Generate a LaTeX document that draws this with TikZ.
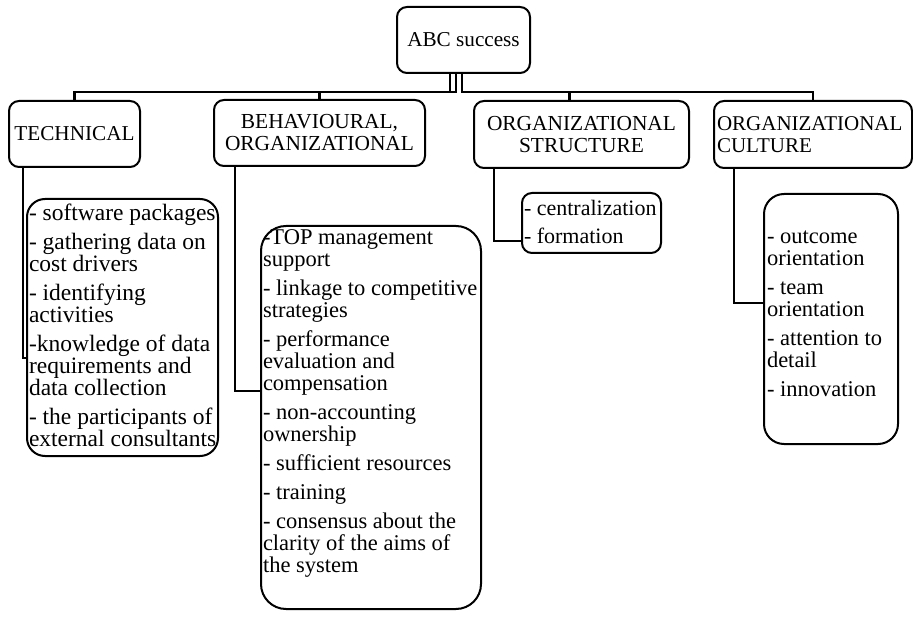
\documentclass[tikz,border=0pt]{standalone}
\usepackage{fontspec}
\setmainfont{Liberation Serif}
\begin{document}
\begin{tikzpicture}[x=1pt,y=-1pt,
  line width=2pt,
  hbox/.style={draw, line width=2pt, rounded corners=10pt, inner sep=0pt, anchor=north west, align=center,
    font=\fontsize{21.4}{22}\selectfont},
  lbox/.style={draw, line width=2pt, inner sep=0pt, anchor=north west},
  ltext/.style={inner sep=0pt, anchor=north west, align=left,
    font=\fontsize{22.5}{22}\selectfont},
  conn/.style={draw, line width=2.2pt}
]
\useasboundingbox (0,0) rectangle (913,620);

% top node
\node[hbox, minimum width=133pt, minimum height=66pt, font=\fontsize{21.2}{22}\selectfont] (abc) at (396,6) {ABC success};

% headings
\node[hbox, minimum width=131pt, minimum height=66pt, font=\fontsize{21.2}{22}\selectfont] (tech) at (8,100) {TECHNICAL};
\node[hbox, minimum width=211pt, minimum height=66pt] (beh) at (213,99) {BEHAVIOURAL,\\ORGANIZATIONAL};
\node[hbox, minimum width=215pt, minimum height=67pt] (struct) at (473,100) {ORGANIZATIONAL\\STRUCTURE};
\node[hbox, minimum width=198pt, minimum height=67pt, align=left, text width=192pt, inner xsep=3pt, font=\fontsize{21}{22}\selectfont] (culture) at (713,100) {ORGANIZATIONAL\\CULTURE};

% list boxes
\node[lbox, rounded corners=18pt, minimum width=191pt, minimum height=257pt] (techlist) at (26,198) {};
\node[ltext, font=\fontsize{23.5}{22}\selectfont] (techtext) at (28,203) {- software packages\\[7pt]- gathering data on\\cost drivers\\[7pt]- identifying\\activities\\[7pt]-knowledge of data\\requirements and\\data collection\\[7pt]- the participants of\\external consultants};

\node[lbox, rounded corners=25pt, minimum width=220pt, minimum height=383pt] (behlist) at (260,225) {};
\node[ltext] (behtext) at (262,229) {-TOP management\\support\\[7pt]- linkage to competitive\\strategies\\[7pt]- performance\\evaluation and\\compensation\\[7pt]- non-accounting\\ownership\\[7pt]- sufficient resources\\[7pt]- training\\[7pt]- consensus about the\\clarity of the aims of\\the system};

\node[lbox, rounded corners=10pt, minimum width=139pt, minimum height=60pt] (structlist) at (521,192) {};
\node[ltext, font=\fontsize{22}{22}\selectfont] (structtext) at (523,199) {- centralization\\[6pt]- formation};

\node[lbox, rounded corners=20pt, minimum width=134pt, minimum height=250pt] (culturelist) at (763,193) {};
\node[ltext] (culturetext) at (766,230) {- outcome\\orientation\\[7pt]- team\\orientation\\[7pt]- attention to\\detail\\[7pt]- innovation};

% connectors from top
\draw[conn] ([xshift=-13.5pt]abc.south) -- ++(0,18) -| (tech.north);
\draw[conn] ([xshift=-7.5pt]abc.south) -- ++(0,18) -| (beh.north);
\draw[conn] ([xshift=-1.5pt]abc.south) -- ++(0,18) -| ([xshift=-12pt]struct.north);
\draw[conn] ([xshift=-1.5pt]abc.south) -- ++(0,18) -| (culture.north);

% connectors to lists
\draw[conn] ([xshift=15pt]tech.south west) |- ([yshift=-30.5pt]techlist.west);
\draw[conn] ([xshift=22pt]beh.south west) |- ([yshift=26.5pt]behlist.west);
\draw[conn] ([xshift=21pt]struct.south west) |- ([yshift=-18pt]structlist.west);
\draw[conn] ([xshift=21pt]culture.south west) |- ([yshift=16pt]culturelist.west);
\end{tikzpicture}
\end{document}
